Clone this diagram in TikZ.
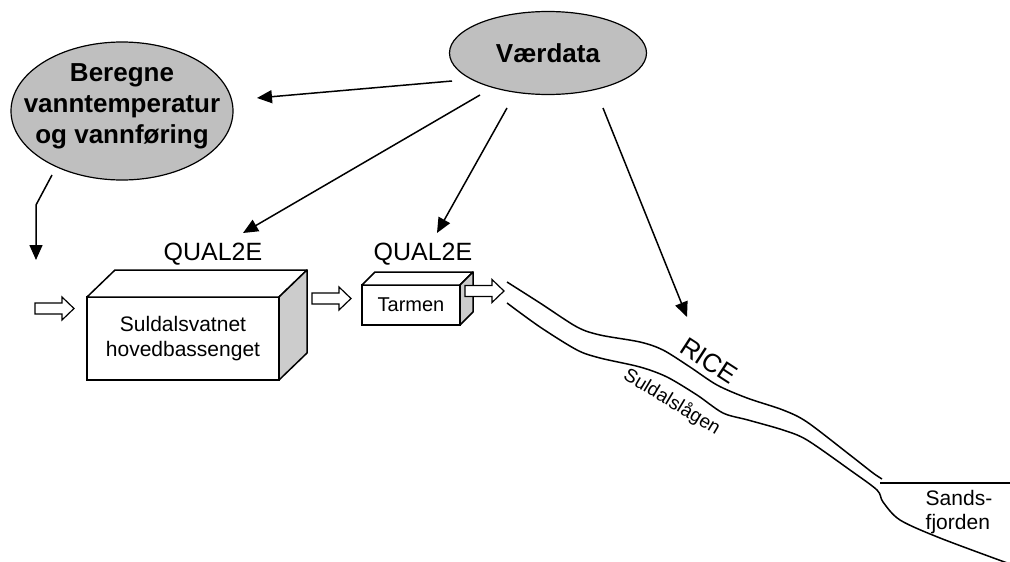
\documentclass[tikz,border=0pt]{standalone}
\usepackage{fontspec}
\setmainfont{Liberation Sans}
\usepackage{tikz}
\usetikzlibrary{
  arrows.meta,
  positioning,
  shapes.geometric
}
\tikzset{
  cloudnode/.style={draw, ellipse, fill=gray!50, line width=1.2pt,
    inner sep=0pt},
  cloudtext/.style={align=center, font=\fontsize{26}{31}\selectfont\bfseries},
  frontbox/.style={draw, rectangle, fill=white, line width=1.5pt,
    align=center, inner sep=0pt, outer sep=0pt},
  topface/.style={draw, fill=white, line width=1.5pt, line join=round},
  sideface/.style={draw, fill=gray!40, line width=1.5pt, line join=round},
  modeltext/.style={font=\fontsize{25}{30}\selectfont},
  arr/.style={-{Triangle[length=15pt,width=13pt]}, line width=1.5pt},
  river/.style={line width=1.5pt},
  hollow/.style={draw, fill=white, line width=1.2pt, line join=miter},
}
\newcommand{\flowarrow}[1]{%
  \draw[hollow] (#1) ++(0,-5.5) -- ++(27,0) -- ++(0,-6) -- ++(12,11.5)
    -- ++(-12,11.5) -- ++(0,-6) -- ++(-27,0) -- cycle;}

\begin{document}
\begin{tikzpicture}[x=1pt, y=-1pt]
  \useasboundingbox (0,0) rectangle (1010,562);

  % Input data
  \node[cloudnode, minimum width=222pt, minimum height=138pt] (bereg) at (122,111) {};
  \node[cloudtext] (beregtxt) at (122,106) {Beregne\\vanntemperatur\\og vannføring};
  \node[cloudnode, minimum width=197pt, minimum height=83pt] (vaer) at (548,53) {};
  \node[cloudtext] (vaertxt) at (vaer) {Værdata};

  % QUAL2E boxes
  \node[frontbox, minimum width=192pt, minimum height=83pt,
        font=\fontsize{21}{25}\selectfont] (lake) at (183,338.5)
    {Suldalsvatnet\\hovedbassenget};
  \draw[topface] (lake.north west) -- ++(28,-27) -- ++(192,0) -- (lake.north east) -- cycle;
  \draw[sideface] (lake.north east) -- ++(28,-27) -- ++(0,83) -- (lake.south east) -- cycle;

  \node[frontbox, minimum width=98pt, minimum height=40pt,
        font=\fontsize{20}{24}\selectfont] (tarm) at (411,305) {\raisebox{-3pt}{Tarmen}};
  \draw[topface] (tarm.north west) -- ++(13,-13) -- ++(98,0) -- (tarm.north east) -- cycle;
  \draw[sideface] (tarm.north east) -- ++(13,-13) -- ++(0,40) -- (tarm.south east) -- cycle;

  \node[modeltext] (q1) at (213,254) {QUAL2E};
  \node[modeltext] (q2) at (423,254) {QUAL2E};

  % Flow arrows
  \coordinate (inn) at (35,308.5);
  \coordinate (ut1) at (312,298.5);
  \coordinate (ut2) at (465,291);
  \flowarrow{inn}
  \flowarrow{ut1}
  \flowarrow{ut2}

  % River
  \draw[river] plot[smooth, tension=0.5] coordinates {(507,282) (540,303) (577,327)
    (600,335) (640,342) (663,350) (690,367) (717,385) (747,398) (783,410)
    (807,422) (850,455) (873,473) (882,479)};
  \draw[river] plot[smooth, tension=0.5] coordinates {(507,303) (540,327) (577,350)
    (600,358) (640,367) (667,377) (697,395) (723,413) (748,420) (783,430)
    (807,440) (850,470) (877,490) (883,502) (900,520) (940,538) (1010,564)};
  \coordinate (fj1) at (880,483);
  \coordinate (fj2) at (1010,483);
  \draw[river] (fj1) -- (fj2);

  \node[rotate=-33, font=\fontsize{26}{30}\selectfont] (rice) at (709,361) {RICE};
  \node[rotate=-31, font=\fontsize{19}{23}\selectfont] (elv) at (672,402) {Suldalslågen};
  \node[align=left, font=\fontsize{21}{24}\selectfont] (fjord) at (959,512) {Sands-\\fjorden};

  % Arrows
  \coordinate (v1) at (452,81);
  \coordinate (v2) at (480,95);
  \coordinate (v3) at (507,108);
  \coordinate (v4) at (603,108);
  \coordinate (b1) at (257,98);
  \coordinate (b2) at (52,175);
  \coordinate (b3) at (36,205);
  \coordinate (b4) at (36,260);
  \coordinate (q1tip) at (243,233);
  \coordinate (q2tip) at (437,233);
  \coordinate (ricetip) at (687,317);
  \draw[arr] (v1) -- (b1);
  \draw[arr] (v2) -- (q1tip);
  \draw[arr] (v3) -- (q2tip);
  \draw[arr] (v4) -- (ricetip);
  \draw[arr] (b2) -- (b3) -- (b4);
\end{tikzpicture}
\end{document}
